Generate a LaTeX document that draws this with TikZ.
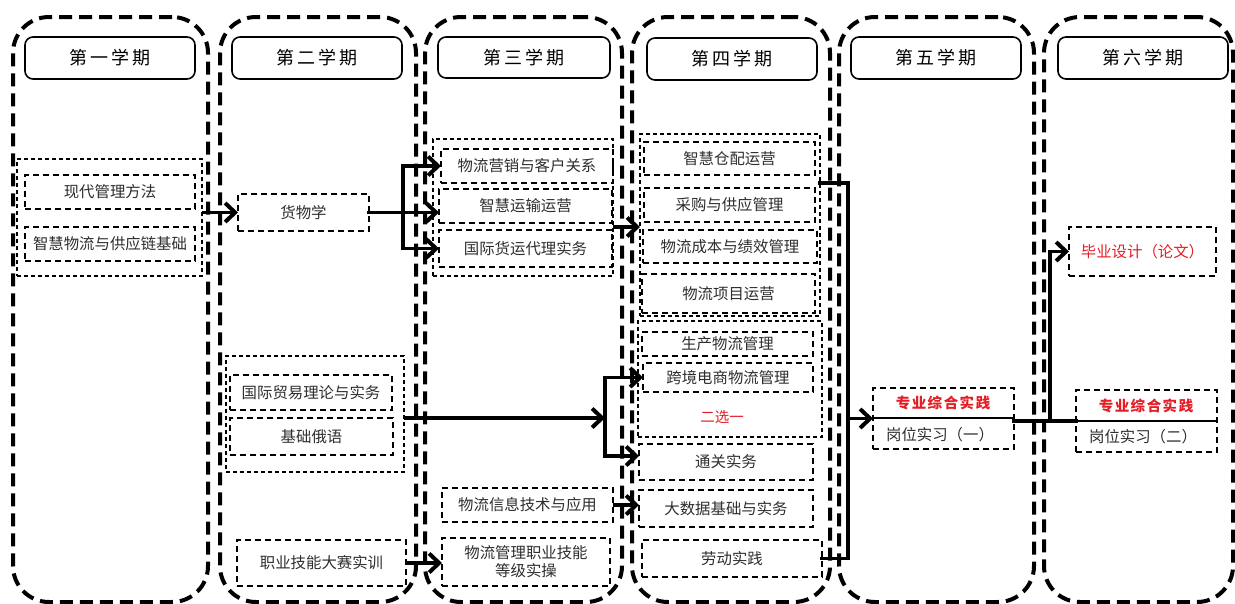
\documentclass[tikz,border=0pt]{standalone}
\usepackage{fontspec}
\setmainfont{Noto Sans CJK SC}
\usetikzlibrary{arrows.meta}
\definecolor{txt}{RGB}{45,45,45}
\definecolor{redtxt}{RGB}{228,30,38}
\newcommand\bodyfont{\fontsize{15.4}{18}\selectfont}
\newcommand\hdrfont{\fontsize{18}{20}\selectfont}
\newcommand\hsp{\hspace{3pt}}
\newcommand\bx[7]{\node[#1, minimum width={(#5-#3)*1pt}, minimum height={(#6-#4)*1pt}] (#2) at ({(#3+#5)/2},{(#4+#6)/2}) {#7};}
\tikzset{
  colbox/.style={draw, line width=4pt, dash pattern=on 13pt off 7pt, rounded corners=36pt, inner sep=0pt, outer sep=0pt},
  hdr/.style={draw, line width=1.6pt, rounded corners=8pt, inner sep=0pt, outer sep=0pt, font=\hdrfont, text=black},
  cbox/.style={draw, line width=1.5pt, dash pattern=on 6pt off 4pt, inner sep=0pt, outer sep=0pt, font=\bodyfont, text=txt, align=center},
  grp/.style={draw, line width=1.1pt, dash pattern=on 4pt off 3pt, inner sep=0pt, outer sep=0pt},
  link/.style={line width=3.7pt, line cap=rect},
  conn/.style={line width=3.7pt, -{Straight Barb[length=10pt,width=19pt,line width=4pt]}},
  lbl/.style={inner sep=0pt, font=\bodyfont, text=txt},
}
\begin{document}
\begin{tikzpicture}[x=1pt,y=-1pt]
\useasboundingbox (0,0) rectangle (1235,603);
\clip (0,0) rectangle (1235,603);
% columns
\bx{colbox}{c1}{13}{17}{208}{602}{}
\bx{colbox}{c2}{220}{17}{416}{602}{}
\bx{colbox}{c3}{425}{17}{622}{602}{}
\bx{colbox}{c4}{632}{17}{830}{602}{}
\bx{colbox}{c5}{839}{17}{1034}{602}{}
\bx{colbox}{c6}{1044}{17}{1233}{602}{}
% headers
\bx{hdr}{h1}{25}{37}{195}{79}{第\hsp 一\hsp 学\hsp 期}
\bx{hdr}{h2}{232}{37}{402}{79}{第\hsp 二\hsp 学\hsp 期}
\bx{hdr}{h3}{438}{37}{610}{78}{第\hsp 三\hsp 学\hsp 期}
\bx{hdr}{h4}{647}{38}{817}{80}{第\hsp 四\hsp 学\hsp 期}
\bx{hdr}{h5}{851}{37}{1021}{79}{第\hsp 五\hsp 学\hsp 期}
\bx{hdr}{h6}{1058}{37}{1228}{79}{第\hsp 六\hsp 学\hsp 期}
% groups
\bx{grp}{g1}{17}{159}{202}{276}{}
\bx{grp}{g3}{433}{139}{613}{276}{}
\bx{grp}{g4}{640}{134}{820}{316}{}
\bx{grp}{g4b}{638}{321}{822}{437}{}
\bx{grp}{g2b}{226}{356}{404}{472}{}
% boxes
\bx{cbox}{b11}{25}{175}{195}{209}{现代管理方法}
\bx{cbox}{b12}{25}{227}{195}{261}{智慧物流与供应链基础}
\bx{cbox}{hw}{238}{194}{369}{231}{货物学}
\bx{cbox}{b21}{230}{375}{392}{410}{国际贸易理论与实务}
\bx{cbox}{b22}{230}{418}{393}{455}{基础俄语}
\bx{cbox}{ds}{237}{540}{406}{586}{职业技能大赛实训}
\bx{cbox}{b31}{441}{149}{613}{183}{物流营销与客户关系}
\bx{cbox}{b32}{439}{189}{612}{223}{智慧运输运营}
\bx{cbox}{b33}{439}{230}{612}{267}{国际货运代理实务}
\bx{cbox}{xx}{442}{488}{613}{522}{物流信息技术与应用}
\bx{cbox}{zy}{442}{538}{610}{586}{物流管理职业技能\\等级实操}
\bx{cbox}{b41}{644}{142}{815}{175}{智慧仓配运营}
\bx{cbox}{b42}{644}{188}{815}{222}{采购与供应管理}
\bx{cbox}{b43}{643}{230}{817}{263}{物流成本与绩效管理}
\bx{cbox}{b44}{642}{274}{815}{313}{物流项目运营}
\bx{cbox}{b45}{642}{332}{813}{356}{生产物流管理}
\bx{cbox}{kj}{643}{363}{813}{392}{跨境电商物流管理}
\node[lbl, text=redtxt, font=\fontsize{14.5}{16}\selectfont] (exy) at (722,417) {二选一};
\bx{cbox}{tg}{639}{444}{813}{480}{通关实务}
\bx{cbox}{dsj}{639}{490}{813}{527}{大数据基础与实务}
\bx{cbox}{ld}{642}{540}{822}{577}{劳动实践}
\bx{cbox}{p5}{873}{388}{1014}{449}{}
\bx{cbox}{p6}{1076}{390}{1217}{452}{}
\bx{cbox}{by}{1069}{227}{1216}{276}{\textcolor{redtxt}{毕业设计（论文）}}
% practice boxes content
\coordinate (d5) at (0,418);
\coordinate (d6) at (0,421);
\draw[line width=1.3pt] (p5.west |- d5) -- (p5.east |- d5);
\draw[line width=1.3pt] (p6.west |- d6) -- (p6.east |- d6);
\node[lbl, text=redtxt, font=\fontsize{14.5}{16}\selectfont\bfseries] (p5a) at (943,403) {专\hspace{1.5pt}业\hspace{1.5pt}综\hspace{1.5pt}合\hspace{1.5pt}实\hspace{1.5pt}践};
\node[lbl] (p5b) at (940,435) {岗位实习（一）};
\node[lbl, text=redtxt, font=\fontsize{14.5}{16}\selectfont\bfseries] (p6a) at (1146,406) {专\hspace{1.5pt}业\hspace{1.5pt}综\hspace{1.5pt}合\hspace{1.5pt}实\hspace{1.5pt}践};
\node[lbl] (p6b) at (1143,437) {岗位实习（二）};
% connectors
\draw[conn] (g1.east |- hw.west) -- (hw.west);
\coordinate (j1) at (403,212.5);
\draw[link] (hw.east) -- (j1);
\draw[link] (j1 |- b31.west) -- (j1 |- b33.west);
\draw[conn] (j1 |- b31.west) -- (b31.west);
\draw[conn] (j1) -- (b32.west |- j1);
\draw[conn] (j1 |- b33.west) -- (b33.west);
\coordinate (yA) at (0,227);
\draw[conn] (g3.east |- yA) -- (g4.west |- yA);
\coordinate (j2) at (605,418);
\coordinate (yT) at (0,456);
\draw[conn] (g2b.east |- j2) -- (j2);
\draw[link] (j2 |- kj.west) -- (j2 |- yT);
\draw[conn] (j2 |- kj.west) -- (kj.west);
\draw[conn] (j2 |- yT) -- (tg.west |- yT);
\draw[conn] (xx.east) -- (dsj.west |- xx.east);
\draw[conn] (ds.east) -- (zy.west |- ds.east);
\coordinate (j3t) at (848,183);
\coordinate (j3b) at (848,558.5);
\draw[link] (g4.east |- j3t) -- (j3t) -- (j3b) -- (ld.east);
\draw[conn] (j3t |- p5.west) -- (p5.west);
\coordinate (j4) at (1050,421);
\draw[link] (p5.east |- j4) -- (p6.west |- j4);
\draw[conn] (j4) |- (by.west);
\end{tikzpicture}
\end{document}
